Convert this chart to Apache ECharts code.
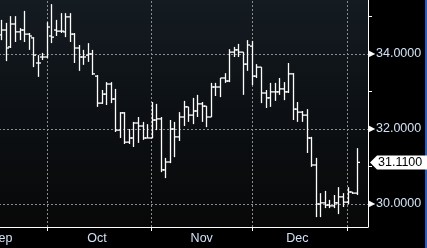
<!DOCTYPE html>
<html><head><meta charset="utf-8">
<script src="https://cdn.jsdelivr.net/npm/echarts@6/dist/echarts.min.js"></script>
<style>html,body{margin:0;padding:0;background:#000;}#c{width:427px;height:248px;}</style>
</head><body><div id="c"></div>
<script>
// ---- data ----
const monthNames = ['Sep', 'Oct', 'Nov', 'Dec', 'Jan'];
const monthBarCounts = [10, 23, 22, 21, 3];
const tickLabels = ['Sep', 'Oct', 'Nov', 'Dec'];
const openVals = [34.51,34.64,34.19,34.80,34.59,34.64,34.53,34.43,33.76,33.92,
  33.92,34.48,34.64,34.61,34.59,34.99,34.53,34.16,33.92,33.97,
  34.00,33.41,32.69,32.93,33.20,32.80,31.97,32.43,31.65,31.76,
  32.16,32.08,31.76,31.76,32.24,32.27,30.91,31.12,32.00,31.79,
  32.32,32.59,32.37,32.48,32.67,32.61,32.32,33.12,33.12,33.36,
  33.28,34.05,34.11,34.05,33.73,34.21,33.41,33.65,32.96,32.83,
  32.99,32.99,33.07,32.99,33.47,32.53,32.45,32.37,31.76,31.04,
  30.00,30.03,29.97,29.95,30.03,30.19,30.05,30.32,30.29];
const highVals = [34.91,34.83,35.01,35.01,34.69,35.15,34.56,34.45,33.97,34.03,
  34.85,35.33,34.91,35.09,35.09,35.09,34.56,34.24,34.11,34.29,
  34.11,33.44,33.04,33.25,33.25,33.07,32.45,32.45,32.00,32.19,
  32.32,32.19,32.13,32.72,32.67,32.32,31.23,32.24,32.19,32.45,
  32.75,32.59,32.83,32.91,32.72,32.61,33.23,33.23,33.36,33.49,
  34.13,34.19,34.27,34.05,34.37,34.35,33.73,33.65,33.04,33.23,
  33.23,33.36,33.25,33.76,33.49,32.72,32.48,32.53,31.79,31.23,
  30.29,30.35,30.11,30.24,30.45,30.29,30.45,30.32,31.49];
const lowVals = [34.37,33.81,34.16,34.32,34.37,34.32,34.11,33.65,33.39,33.84,
  33.89,34.29,34.48,34.56,34.45,34.32,33.76,33.55,33.71,33.79,
  33.44,32.59,32.67,32.64,32.69,31.92,31.76,31.60,31.60,31.52,
  31.63,31.71,31.76,31.76,31.97,30.85,30.69,31.09,31.25,31.68,
  32.08,32.19,32.13,32.32,32.19,32.05,32.32,32.88,32.85,33.23,
  33.25,33.92,33.92,32.91,33.55,33.17,33.36,32.69,32.56,32.59,
  32.75,32.91,32.77,32.96,32.24,32.19,32.19,31.36,30.99,29.65,
  29.65,29.89,29.89,29.89,29.73,29.92,30.00,30.27,30.24];
const closeVals = [34.64,34.16,34.80,34.59,34.64,34.53,34.48,33.97,33.76,33.92,
  34.72,34.45,34.61,34.61,34.99,34.53,34.16,33.92,33.92,34.00,
  33.47,32.69,32.93,33.20,32.80,31.97,32.43,31.65,31.76,32.16,
  32.08,31.76,31.76,32.24,32.27,30.91,31.12,32.00,31.79,32.32,
  32.59,32.37,32.48,32.67,32.61,32.32,33.12,33.12,33.36,33.28,
  34.05,34.11,34.05,33.73,34.24,33.41,33.65,32.96,32.83,32.99,
  32.99,33.07,32.99,33.47,32.53,32.45,32.37,31.76,31.04,30.00,
  30.03,29.97,29.95,30.03,30.19,30.05,30.32,30.29,31.11];
const lastPrice = 31.11;
const yLabelValues = [30, 32, 34];
const yTickValues = [30, 31, 32, 33, 34, 35];
const padSlots = ['pad1', 'pad2'];

// ---- derived ----
const categories = [];
const monthStartIdx = [];
const labelIdx = {};
let cursor = 0;
monthNames.forEach((m, mi) => {
  if (mi > 0) monthStartIdx.push(cursor);
  if (mi < tickLabels.length) {
    labelIdx[mi === 0 ? 0 : cursor + Math.floor(monthBarCounts[mi] / 2)] = tickLabels[mi];
  }
  for (let k = 0; k < monthBarCounts[mi]; k++) categories.push(m + ' ' + (k + 1));
  cursor += monthBarCounts[mi];
});
const nBars = categories.length;
padSlots.forEach(p => categories.push(p));

const ohlc = openVals.map((o, i) => [i, o, closeVals[i], lowVals[i], highVals[i]]);

const gridStyle = { color: '#8a8d90', type: [2, 2], width: 1 };
const markData = yLabelValues.map(v => ({ yAxis: v }))
  .concat(monthStartIdx.map(i => ({ xAxis: categories[i] })));

const chart = echarts.init(document.getElementById('c'), null, { renderer: 'canvas' });
chart.setOption({
  animation: false,
  backgroundColor: '#000',
  graphic: [{ type: 'rect', z: -1, shape: { x: 425, y: 0, width: 2, height: 248 }, style: { fill: '#2b5fb8' } }],
  grid: {
    left: -1, right: 59, top: 0, bottom: 21, show: true, borderWidth: 0,
    outerBoundsMode: 'none',
    backgroundColor: new echarts.graphic.LinearGradient(0, 0, 0, 1, [
      { offset: 0, color: '#141b21' }, { offset: 0.5, color: '#0c1014' }, { offset: 1, color: '#080808' }
    ])
  },
  xAxis: {
    type: 'category', data: categories, boundaryGap: true,
    axisLine: { lineStyle: { color: '#ffffff', width: 1 } },
    axisTick: { show: true, alignWithLabel: true, length: 4, lineStyle: { color: '#ffffff' },
      interval: (i) => monthStartIdx.indexOf(i) >= 0 },
    axisLabel: { interval: (i) => labelIdx[i] !== undefined, formatter: (v, i) => labelIdx[i] || '',
      color: '#d2e1f5', fontFamily: 'Liberation Sans', fontSize: 12.5, margin: 5 },
    splitLine: { show: false }
  },
  yAxis: {
    type: 'value', position: 'right', min: 29.3867, max: 35.44, scale: true,
    axisLine: { show: true, lineStyle: { color: '#ffffff', width: 1 } },
    axisTick: { show: true, length: 4, customValues: yTickValues, lineStyle: { color: '#ffffff' } },
    axisLabel: { customValues: yLabelValues, margin: 1,
      formatter: v => '{t|▶}{v|' + v.toFixed(4) + '}',
      rich: { t: { fontSize: 8, color: '#ffffff', padding: [0, 1, 0, 0] },
              v: { fontSize: 12.5, fontFamily: 'Liberation Sans', color: '#d2e1f5' } } },
    splitLine: { show: false }
  },
  series: [{
    type: 'custom',
    data: ohlc,
    encode: { x: 0, y: [1, 2, 3, 4] },
    renderItem: (params, api) => {
      const x = api.value(0);
      const o = api.coord([x, api.value(1)]);
      const c = api.coord([x, api.value(2)]);
      const l = api.coord([x, api.value(3)]);
      const h = api.coord([x, api.value(4)]);
      const cx = Math.round(h[0]) + 0.5;
      const t = 2.5;
      const st = { stroke: '#ffffff', lineWidth: 1.3 };
      return { type: 'group', children: [
        { type: 'line', shape: { x1: cx, y1: h[1], x2: cx, y2: l[1] }, style: st },
        { type: 'line', shape: { x1: cx - t, y1: o[1], x2: cx, y2: o[1] }, style: st },
        { type: 'line', shape: { x1: cx, y1: c[1], x2: cx + t, y2: c[1] }, style: st }
      ]};
    },
    markLine: { silent: true, symbol: 'none', label: { show: false }, lineStyle: gridStyle, data: markData, z: 1 },
    z: 3
  }, {
    type: 'custom',
    data: [[nBars - 1, lastPrice]],
    encode: { x: 0, y: 1 },
    clip: false,
    z: 5,
    renderItem: (params, api) => {
      const p = api.coord([api.value(0), api.value(1)]);
      const x0 = params.coordSys.x + params.coordSys.width + 1;
      const y = Math.round(p[1]) + 0.5;
      const hh = 7;
      return { type: 'group', children: [
        { type: 'polygon', shape: { points: [[x0 + 1, y], [x0 + 8, y - hh], [427, y - hh], [427, y + hh], [x0 + 8, y + hh]] },
          style: { fill: '#ffffff' } },
        { type: 'text', style: { x: x0 + 9, y: y, text: api.value(1).toFixed(4), fill: '#000000',
          font: '12.5px "Liberation Sans"', verticalAlign: 'middle', align: 'left' } }
      ]};
    }
  }]
});
</script></body></html>
